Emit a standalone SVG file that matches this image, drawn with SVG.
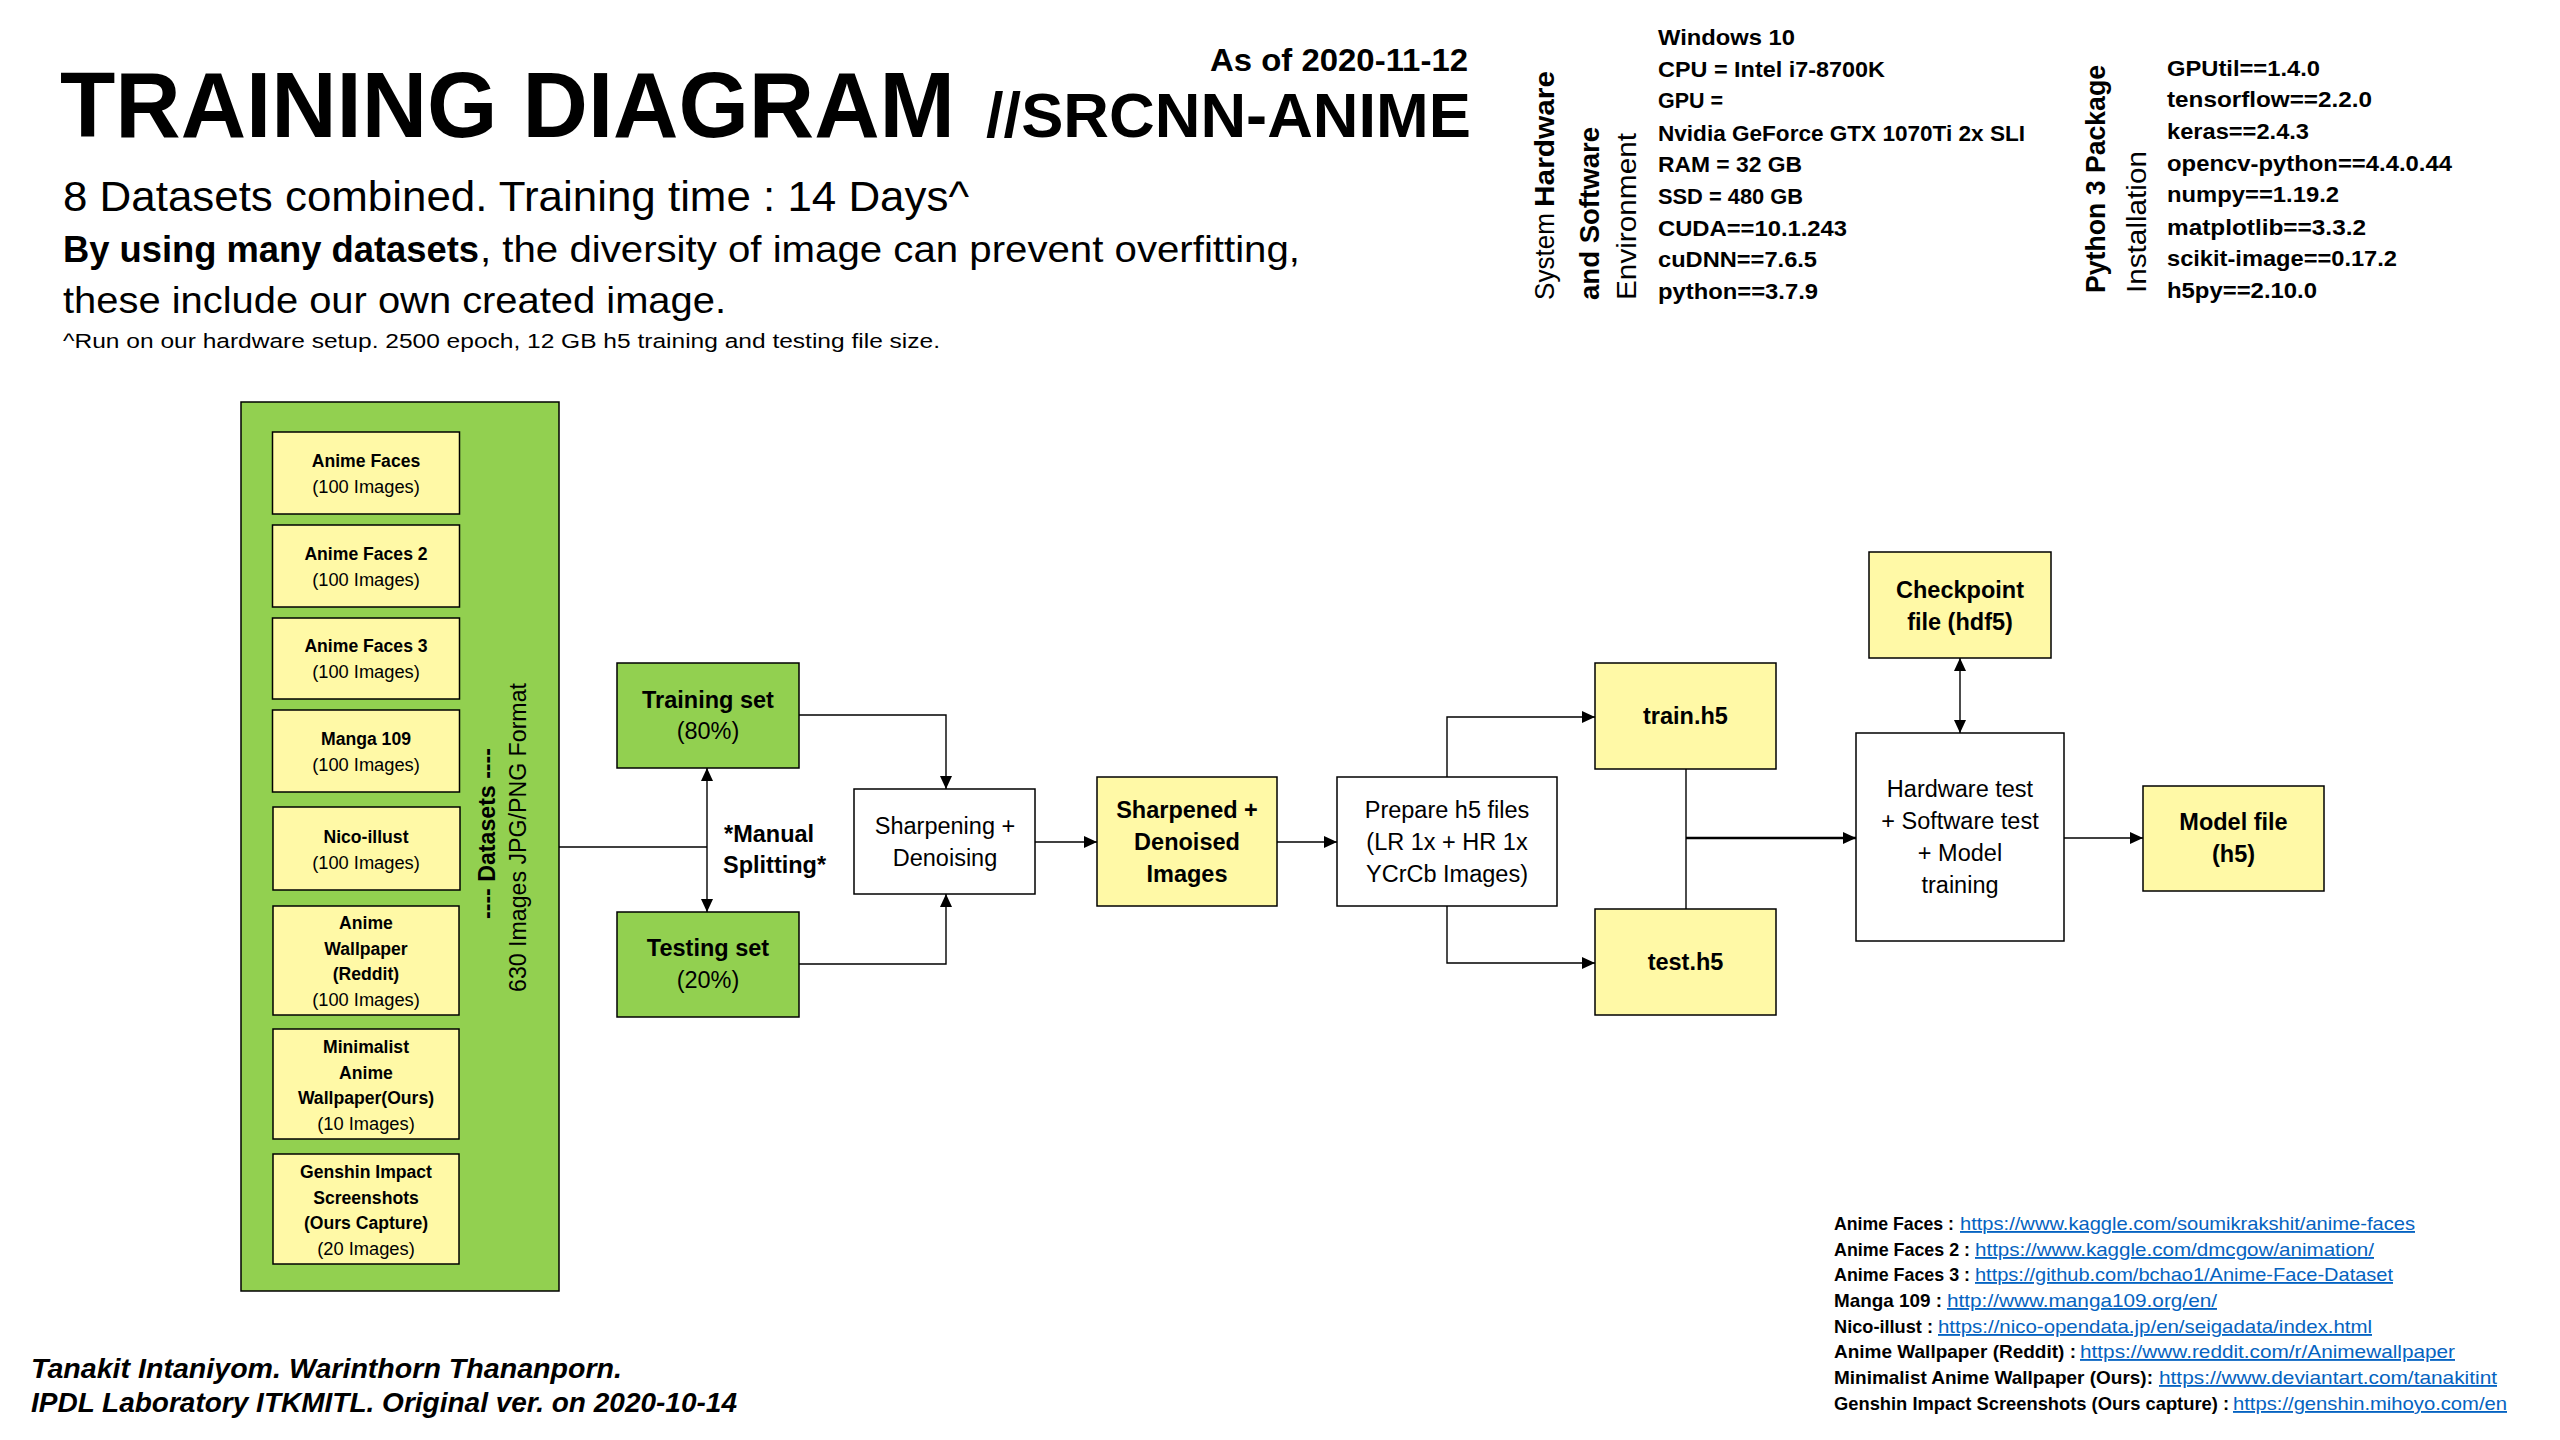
<svg xmlns="http://www.w3.org/2000/svg" width="2560" height="1440" viewBox="0 0 2560 1440">
<defs>
<style>
text{font-family:"Liberation Sans",Arial,sans-serif;fill:#000}
.b{font-weight:bold}
.bi{font-weight:bold;font-style:italic}
.m{text-anchor:middle}
.ds{font-size:17.6px;font-weight:bold}
.dr{font-size:18.3px}
.f{font-size:23.5px}
.l{font-size:22.5px;font-weight:bold}
.v{font-size:27px}
.ref{font-size:18.5px;font-weight:bold}
.url{font-size:18.5px;fill:#0563C1;text-decoration:underline}
.bx{stroke:#000;stroke-width:1.5}
.gr{fill:#92D050}
.ye{fill:#FFF9A6}
.wh{fill:#FFFFFF}
.c{fill:none;stroke:#000;stroke-width:1.4}
</style>
<marker id="ah" markerUnits="userSpaceOnUse" viewBox="0 0 13 12" markerWidth="13" markerHeight="12" refX="13" refY="6" orient="auto-start-reverse"><path d="M0,0 L13,6 L0,12 Z" fill="#000"/></marker>
</defs>
<rect x="0" y="0" width="2560" height="1440" fill="#FFFFFF"/>

<g id="header">
<text class="b" x="60" y="137" font-size="93" textLength="895" lengthAdjust="spacingAndGlyphs">TRAINING DIAGRAM</text>
<text class="b" x="986" y="137" font-size="63" textLength="485" lengthAdjust="spacingAndGlyphs">//SRCNN-ANIME</text>
<text class="b" x="1210" y="71" font-size="32" textLength="258" lengthAdjust="spacingAndGlyphs">As of 2020-11-12</text>
<text x="63" y="211" font-size="42" textLength="906" lengthAdjust="spacingAndGlyphs">8 Datasets combined. Training time : 14 Days^</text>
<text class="b" x="63" y="262" font-size="36" textLength="416" lengthAdjust="spacingAndGlyphs">By using many datasets</text>
<text x="480" y="262" font-size="36" textLength="820" lengthAdjust="spacingAndGlyphs">, the diversity of image can prevent overfitting,</text>
<text x="63" y="313" font-size="36" textLength="663" lengthAdjust="spacingAndGlyphs">these include our own created image.</text>
<text x="63" y="348" font-size="20.5" textLength="877" lengthAdjust="spacingAndGlyphs">^Run on our hardware setup. 2500 epoch, 12 GB h5 training and testing file size.</text>
</g>

<g id="environment">
<text class="v" transform="translate(1554,300) rotate(-90)" textLength="87" lengthAdjust="spacingAndGlyphs">System</text>
<text class="v b" transform="translate(1554,207) rotate(-90)" textLength="136" lengthAdjust="spacingAndGlyphs">Hardware</text>
<text class="v b" transform="translate(1599,300) rotate(-90)" textLength="173" lengthAdjust="spacingAndGlyphs">and Software</text>
<text class="v" transform="translate(1636,300) rotate(-90)" textLength="167" lengthAdjust="spacingAndGlyphs">Environment</text>
<text class="l" x="1658" y="45" textLength="137" lengthAdjust="spacingAndGlyphs">Windows 10</text>
<text class="l" x="1658" y="77" textLength="227" lengthAdjust="spacingAndGlyphs">CPU = Intel i7-8700K</text>
<text class="l" x="1658" y="108" textLength="65" lengthAdjust="spacingAndGlyphs">GPU =</text>
<text class="l" x="1658" y="141" textLength="367" lengthAdjust="spacingAndGlyphs">Nvidia GeForce GTX 1070Ti 2x SLI</text>
<text class="l" x="1658" y="172" textLength="144" lengthAdjust="spacingAndGlyphs">RAM = 32 GB</text>
<text class="l" x="1658" y="204" textLength="145" lengthAdjust="spacingAndGlyphs">SSD = 480 GB</text>
<text class="l" x="1658" y="236" textLength="189" lengthAdjust="spacingAndGlyphs">CUDA==10.1.243</text>
<text class="l" x="1658" y="267" textLength="159" lengthAdjust="spacingAndGlyphs">cuDNN==7.6.5</text>
<text class="l" x="1658" y="299" textLength="160" lengthAdjust="spacingAndGlyphs">python==3.7.9</text>
</g>

<g id="packages">
<text class="v b" transform="translate(2105,293) rotate(-90)" textLength="228" lengthAdjust="spacingAndGlyphs">Python 3 Package</text>
<text class="v" transform="translate(2146,293) rotate(-90)" textLength="142" lengthAdjust="spacingAndGlyphs">Installation</text>
<text class="l" x="2167" y="76" textLength="153" lengthAdjust="spacingAndGlyphs">GPUtil==1.4.0</text>
<text class="l" x="2167" y="107" textLength="205" lengthAdjust="spacingAndGlyphs">tensorflow==2.2.0</text>
<text class="l" x="2167" y="139" textLength="142" lengthAdjust="spacingAndGlyphs">keras==2.4.3</text>
<text class="l" x="2167" y="171" textLength="285" lengthAdjust="spacingAndGlyphs">opencv-python==4.4.0.44</text>
<text class="l" x="2167" y="202" textLength="172" lengthAdjust="spacingAndGlyphs">numpy==1.19.2</text>
<text class="l" x="2167" y="235" textLength="199" lengthAdjust="spacingAndGlyphs">matplotlib==3.3.2</text>
<text class="l" x="2167" y="266" textLength="230" lengthAdjust="spacingAndGlyphs">scikit-image==0.17.2</text>
<text class="l" x="2167" y="298" textLength="150" lengthAdjust="spacingAndGlyphs">h5py==2.10.0</text>
</g>

<g id="datasets">
<rect class="bx gr" x="241" y="402" width="318" height="889"/>
<text class="b" font-size="23" transform="translate(495,919) rotate(-90)" textLength="171" lengthAdjust="spacingAndGlyphs">---- Datasets ----</text>
<text font-size="23" transform="translate(526,992) rotate(-90)" textLength="309" lengthAdjust="spacingAndGlyphs">630 Images JPG/PNG Format</text>
</g>

<g id="ds-anime-faces">
<rect class="bx ye" x="272.5" y="432" width="187" height="82"/>
<text class="ds m" x="366" y="467">Anime Faces</text>
<text class="dr m" x="366" y="493">(100 Images)</text>
</g>
<g id="ds-anime-faces-2">
<rect class="bx ye" x="272.5" y="525" width="187" height="82"/>
<text class="ds m" x="366" y="560">Anime Faces 2</text>
<text class="dr m" x="366" y="586">(100 Images)</text>
</g>
<g id="ds-anime-faces-3">
<rect class="bx ye" x="272.5" y="618" width="187" height="81"/>
<text class="ds m" x="366" y="652">Anime Faces 3</text>
<text class="dr m" x="366" y="678">(100 Images)</text>
</g>
<g id="ds-manga-109">
<rect class="bx ye" x="272.5" y="710" width="187" height="82"/>
<text class="ds m" x="366" y="745">Manga 109</text>
<text class="dr m" x="366" y="771">(100 Images)</text>
</g>
<g id="ds-nico-illust">
<rect class="bx ye" x="273" y="807" width="187" height="83"/>
<text class="ds m" x="366" y="843">Nico-illust</text>
<text class="dr m" x="366" y="869">(100 Images)</text>
</g>
<g id="ds-anime-wallpaper">
<rect class="bx ye" x="273" y="906" width="186" height="109"/>
<text class="ds m" x="366" y="929">Anime</text>
<text class="ds m" x="366" y="955">Wallpaper</text>
<text class="ds m" x="366" y="980">(Reddit)</text>
<text class="dr m" x="366" y="1006">(100 Images)</text>
</g>
<g id="ds-minimalist">
<rect class="bx ye" x="273" y="1029" width="186" height="110"/>
<text class="ds m" x="366" y="1053">Minimalist</text>
<text class="ds m" x="366" y="1079">Anime</text>
<text class="ds m" x="366" y="1104">Wallpaper(Ours)</text>
<text class="dr m" x="366" y="1130">(10 Images)</text>
</g>
<g id="ds-genshin">
<rect class="bx ye" x="273" y="1154" width="186" height="110"/>
<text class="ds m" x="366" y="1178">Genshin Impact</text>
<text class="ds m" x="366" y="1204">Screenshots</text>
<text class="ds m" x="366" y="1229">(Ours Capture)</text>
<text class="dr m" x="366" y="1255">(20 Images)</text>
</g>

<g id="training-set">
<rect class="bx gr" x="617" y="663" width="182" height="105"/>
<text class="f b m" x="708" y="708">Training set</text>
<text class="f m" x="708" y="739">(80%)</text>
</g>
<g id="testing-set">
<rect class="bx gr" x="617" y="912" width="182" height="105"/>
<text class="f b m" x="708" y="956">Testing set</text>
<text class="f m" x="708" y="988">(20%)</text>
</g>
<g id="manual-splitting">
<text class="f b" x="724" y="842">*Manual</text>
<text class="f b" x="723" y="873">Splitting*</text>
</g>
<g id="sharpening">
<rect class="bx wh" x="854" y="789" width="181" height="105"/>
<text class="f m" x="945" y="834">Sharpening +</text>
<text class="f m" x="945" y="866">Denoising</text>
</g>
<g id="sharpened">
<rect class="bx ye" x="1097" y="777" width="180" height="129"/>
<text class="f b m" x="1187" y="818">Sharpened +</text>
<text class="f b m" x="1187" y="850">Denoised</text>
<text class="f b m" x="1187" y="882">Images</text>
</g>
<g id="prepare">
<rect class="bx wh" x="1337" y="777" width="220" height="129"/>
<text class="f m" x="1447" y="818">Prepare h5 files</text>
<text class="f m" x="1447" y="850">(LR 1x + HR 1x</text>
<text class="f m" x="1447" y="882">YCrCb Images)</text>
</g>
<g id="train-h5">
<rect class="bx ye" x="1595" y="663" width="181" height="106"/>
<text class="f b m" x="1685.5" y="724">train.h5</text>
</g>
<g id="test-h5">
<rect class="bx ye" x="1595" y="909" width="181" height="106"/>
<text class="f b m" x="1685.5" y="970">test.h5</text>
</g>
<g id="hardware">
<rect class="bx wh" x="1856" y="733" width="208" height="208"/>
<text class="f m" x="1960" y="797">Hardware test</text>
<text class="f m" x="1960" y="829">+ Software test</text>
<text class="f m" x="1960" y="861">+ Model</text>
<text class="f m" x="1960" y="893">training</text>
</g>
<g id="checkpoint">
<rect class="bx ye" x="1869" y="552" width="182" height="106"/>
<text class="f b m" x="1960" y="598">Checkpoint</text>
<text class="f b m" x="1960" y="630">file (hdf5)</text>
</g>
<g id="model">
<rect class="bx ye" x="2143" y="786" width="181" height="105"/>
<text class="f b m" x="2233.5" y="830">Model file</text>
<text class="f b m" x="2233.5" y="862">(h5)</text>
</g>

<g id="connectors">
<path class="c" d="M559,847 H707"/>
<path class="c" d="M707,768 V912" marker-start="url(#ah)" marker-end="url(#ah)"/>
<path class="c" d="M799,715 H946 V789" marker-end="url(#ah)"/>
<path class="c" d="M799,964 H946 V894" marker-end="url(#ah)"/>
<path class="c" d="M1035,842 H1097" marker-end="url(#ah)"/>
<path class="c" d="M1277,842 H1337" marker-end="url(#ah)"/>
<path class="c" d="M1447,777 V717 H1595" marker-end="url(#ah)"/>
<path class="c" d="M1447,906 V963 H1595" marker-end="url(#ah)"/>
<path class="c" d="M1686,769 V909"/>
<path class="c" style="stroke-width:2.7" d="M1686,838 H1856" marker-end="url(#ah)"/>
<path class="c" d="M1960,658 V733" marker-start="url(#ah)" marker-end="url(#ah)"/>
<path class="c" d="M2064,838 H2143" marker-end="url(#ah)"/>
</g>

<g id="references">
<text class="ref" x="1834" y="1230" textLength="120" lengthAdjust="spacingAndGlyphs">Anime Faces :</text>
<text class="url" x="1960" y="1230" textLength="455" lengthAdjust="spacingAndGlyphs">https://www.kaggle.com/soumikrakshit/anime-faces</text>
<text class="ref" x="1834" y="1256" textLength="136" lengthAdjust="spacingAndGlyphs">Anime Faces 2 :</text>
<text class="url" x="1975" y="1256" textLength="399" lengthAdjust="spacingAndGlyphs">https://www.kaggle.com/dmcgow/animation/</text>
<text class="ref" x="1834" y="1281" textLength="136" lengthAdjust="spacingAndGlyphs">Anime Faces 3 :</text>
<text class="url" x="1975" y="1281" textLength="418" lengthAdjust="spacingAndGlyphs">https://github.com/bchao1/Anime-Face-Dataset</text>
<text class="ref" x="1834" y="1307" textLength="108" lengthAdjust="spacingAndGlyphs">Manga 109 :</text>
<text class="url" x="1947" y="1307" textLength="270" lengthAdjust="spacingAndGlyphs">http://www.manga109.org/en/</text>
<text class="ref" x="1834" y="1333" textLength="99" lengthAdjust="spacingAndGlyphs">Nico-illust :</text>
<text class="url" x="1938" y="1333" textLength="434" lengthAdjust="spacingAndGlyphs">https://nico-opendata.jp/en/seigadata/index.html</text>
<text class="ref" x="1834" y="1358" textLength="242" lengthAdjust="spacingAndGlyphs">Anime Wallpaper (Reddit) :</text>
<text class="url" x="2080" y="1358" textLength="375" lengthAdjust="spacingAndGlyphs">https://www.reddit.com/r/Animewallpaper</text>
<text class="ref" x="1834" y="1384" textLength="319" lengthAdjust="spacingAndGlyphs">Minimalist Anime Wallpaper (Ours):</text>
<text class="url" x="2159" y="1384" textLength="338" lengthAdjust="spacingAndGlyphs">https://www.deviantart.com/tanakitint</text>
<text class="ref" x="1834" y="1410" textLength="395" lengthAdjust="spacingAndGlyphs">Genshin Impact Screenshots (Ours capture) :</text>
<text class="url" x="2233" y="1410" textLength="274" lengthAdjust="spacingAndGlyphs">https://genshin.mihoyo.com/en</text>
</g>

<g id="footer">
<text class="bi" x="31" y="1378" font-size="28.5" textLength="591" lengthAdjust="spacingAndGlyphs">Tanakit Intaniyom. Warinthorn Thananporn.</text>
<text class="bi" x="31" y="1412" font-size="28.5" textLength="706" lengthAdjust="spacingAndGlyphs">IPDL Laboratory ITKMITL. Original ver. on 2020-10-14</text>
</g>
</svg>
